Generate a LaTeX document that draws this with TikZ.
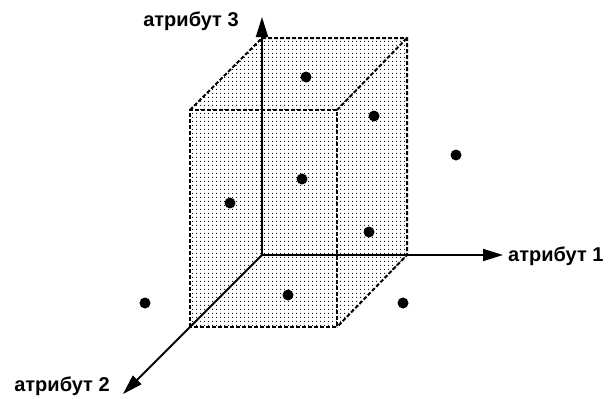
\documentclass[tikz,border=0pt]{standalone}
\usepackage{fontspec}
\setmainfont{Liberation Sans}
\usetikzlibrary{patterns,arrows.meta}
\pgfdeclarepatternformonly{bigdots}{\pgfpointorigin}{\pgfqpoint{3.6pt}{3.6pt}}{\pgfqpoint{3.6pt}{3.6pt}}{\pgfpathcircle{\pgfqpoint{1.8pt}{1.8pt}}{0.65pt}\pgfusepath{fill}}
\begin{document}
\begin{tikzpicture}[x=1pt,y=-1pt,
  axis/.style={line width=1.8pt,-{Triangle[length=20pt,width=12pt]}},
  edge/.style={line width=2pt,dash pattern=on 4pt off 2pt},
  pt/.style={circle,fill=black,inner sep=0pt,minimum size=11pt},
  lab/.style={font=\bfseries\fontsize{20}{22}\selectfont,inner sep=0pt}]
\useasboundingbox (0,0) rectangle (608,399);
% cube corners
\coordinate (O) at (262,255);
\coordinate (A) at (190,110);
\coordinate (B) at (262,38);
\coordinate (C) at (407,38);
\coordinate (D) at (407,255);
\coordinate (E) at (337,327);
\coordinate (F) at (190,327);
\coordinate (G) at (337,110);
% fill
\fill[pattern=bigdots,pattern color=black] (A) -- (B) -- (C) -- (D) -- (E) -- (F) -- cycle;
% dashed edges
\draw[edge] (F) -- (A) -- (G) -- (E) -- (F);
\draw[edge] (A) -- (B) -- (C) -- (D) -- (E);
\draw[edge] (G) -- (C);
% axes
\coordinate (X1) at (503,255);
\coordinate (X3) at (262,17);
\coordinate (X2) at (123,394);
\draw[axis] (O) -- (X1);
\draw[axis] (O) -- (X3);
\draw[axis] (O) -- (X2);
% labels
\node[lab,anchor=west] (l1) at (508,256) {атрибут 1};
\node[lab] (l3) at (191,21) {атрибут 3};
\node[lab] (l2) at (62,386) {атрибут 2};
% points
\node[pt] (p1) at (306,77) {};
\node[pt] (p2) at (374,116) {};
\node[pt] (p3) at (456,155) {};
\node[pt] (p4) at (302,179) {};
\node[pt] (p5) at (230,203) {};
\node[pt] (p6) at (369,232) {};
\node[pt] (p7) at (288,295) {};
\node[pt] (p8) at (403,303) {};
\node[pt] (p9) at (145,303) {};
\end{tikzpicture}
\end{document}
